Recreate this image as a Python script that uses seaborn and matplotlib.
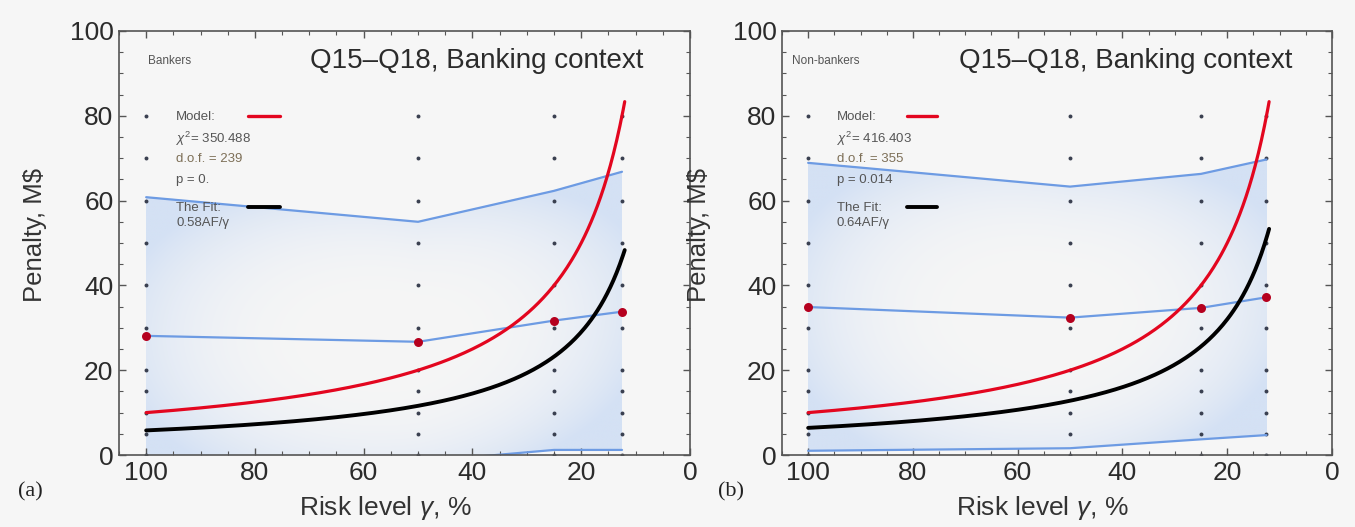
import numpy as np
import pandas as pd
import matplotlib
matplotlib.use("Agg")
import matplotlib.pyplot as plt
import seaborn as sns

# ---- data -------------------------------------------------------------
risk_levels = [100, 50, 25, 12.5]          # risk level gamma, %

bankers_mean = [28.1, 26.7, 31.7, 33.8]
bankers_upper = [60.8, 55.0, 62.3, 66.8]
bankers_lower = [-4.0, -1.6, 1.2, 1.2]

nonbankers_mean = [34.9, 32.4, 34.7, 37.2]
nonbankers_upper = [68.9, 63.3, 66.3, 69.7]
nonbankers_lower = [1.0, 1.6, 3.7, 4.7]

AF = 10.0                                   # model scale: penalty = AF*100/gamma
fit_coef = {"Bankers": 0.58, "Non-bankers": 0.64}
stats = {
    "Bankers": ("350.488", "239", "0."),
    "Non-bankers": ("416.403", "355", "0.014"),
}
grid_y = [0, 5, 10, 15, 20, 30, 40, 50, 60, 70, 80]

x_ticks = [100, 80, 60, 40, 20, 0]
y_ticks = [0, 20, 40, 60, 80, 100]

# ---- style ------------------------------------------------------------
sns.set_theme(style="ticks")
BG = "#f6f6f6"
plt.rcParams["font.family"] = ["Liberation Sans", "DejaVu Sans"]
plt.rcParams["mathtext.fontset"] = "custom"
plt.rcParams["mathtext.it"] = "Liberation Sans:italic"
plt.rcParams["mathtext.rm"] = "Liberation Sans"

RED = "#e3061f"
BLUE = "#6d9be3"
DOT_RED = "#b5001e"
TXT = "#2b2b2b"
SMALL = 9.5

fig = plt.figure(figsize=(13.55, 5.27), dpi=100, facecolor=BG)
ax_a = fig.add_axes([0.0878, 0.1366, 0.4214, 0.8046])
ax_b = fig.add_axes([0.5771, 0.1366, 0.4059, 0.8046])


def band_gradient(ax, xs, lo, up):
    """Soft blue shading between the lower and upper bounds."""
    xs = np.asarray(xs, float)
    order = np.argsort(xs)
    xo, lo_o, up_o = xs[order], np.asarray(lo)[order], np.asarray(up)[order]
    x0, x1 = xo.min(), xo.max()
    y0, y1 = min(lo_o.min(), 0), up_o.max()
    nx, ny = 400, 400
    gx = np.linspace(x0, x1, nx)
    gy = np.linspace(y0, y1, ny)
    X, Y = np.meshgrid(gx, gy)
    L = np.interp(X, xo, lo_o)
    U = np.interp(X, xo, up_o)
    u = (X - x0) / (x1 - x0)
    v = (Y - L) / (U - L)
    inside = (v >= 0) & (v <= 1)
    r = np.clip(((2 * u - 1) ** 2 + (2 * v - 1) ** 2 * 0.8) / 1.3, 0, 1)
    a = r ** 1.6
    base = np.array(matplotlib.colors.to_rgb(BG))
    blue = np.array(matplotlib.colors.to_rgb("#d4e1f4"))
    rgb = base[None, None, :] * (1 - a[..., None]) + blue[None, None, :] * a[..., None]
    rgba = np.dstack([rgb, inside.astype(float)])
    ax.imshow(rgba, extent=(x0, x1, y0, y1), origin="lower", aspect="auto",
              interpolation="bilinear", zorder=0.5)


def draw_panel(ax, group, mean, upper, lower):
    ax.set_facecolor(BG)
    band_gradient(ax, risk_levels, lower, upper)

    # dotted grid columns at the surveyed risk levels
    gx = np.repeat(risk_levels, len(grid_y))
    gyy = np.tile(grid_y, len(risk_levels))
    ax.scatter(gx, gyy, s=8, color="#3a4050", zorder=1, linewidths=0)

    df = pd.DataFrame({"gamma": risk_levels, "mean": mean,
                       "upper": upper, "lower": lower})
    for col in ["upper", "mean", "lower"]:
        sns.lineplot(data=df, x="gamma", y=col, ax=ax, color=BLUE, lw=1.6,
                     sort=False, zorder=2, legend=False)

    g = np.linspace(100, 12, 300)
    curves = pd.DataFrame({"gamma": g,
                           "model": AF * 100 / g,
                           "fit": fit_coef[group] * AF * 100 / g})
    sns.lineplot(data=curves, x="gamma", y="model", ax=ax, color=RED, lw=2.3,
                 sort=False, zorder=3)
    sns.lineplot(data=curves, x="gamma", y="fit", ax=ax, color="black", lw=2.8,
                 sort=False, zorder=3)

    sns.scatterplot(data=df, x="gamma", y="mean", ax=ax, color=DOT_RED, s=42,
                    linewidth=0, zorder=4)

    # in-plot legend / statistics
    chi2, dof, p = stats[group]
    ax.text(94.5, 79.7, "Model:", fontsize=SMALL, color="#555555", va="center")
    ax.plot([81.2, 75.4], [80.0, 80.0], color=RED, lw=2.4)
    ax.text(94.5, 74.6, r"$\chi^2$= " + chi2, fontsize=SMALL, color="#555555", va="center")
    ax.text(94.5, 69.8, "d.o.f. = " + dof, fontsize=SMALL, color="#7d6f57", va="center")
    ax.text(94.5, 64.9, "p = " + p, fontsize=SMALL, color="#555555", va="center")
    ax.text(94.5, 58.3, "The Fit:", fontsize=SMALL, color="#555555", va="center")
    ax.plot([81.2, 75.4], [58.6, 58.6], color="black", lw=2.8)
    ax.text(94.5, 54.8, f"{fit_coef[group]:.2f}AF/\u03b3", fontsize=SMALL,
            color="#555555", va="center")

    ax.text(39.3, 93.0, "Q15\u2013Q18, Banking context", fontsize=20,
            color=TXT, ha="center", va="center")

    ax.set_xlim(105, 0)
    ax.set_ylim(0, 100)
    ax.set_xticks(x_ticks)
    ax.set_yticks(y_ticks)
    ax.set_xticks(np.arange(0, 106, 5), minor=True)
    ax.set_yticks(np.arange(0, 101, 5), minor=True)
    ax.tick_params(which="both", direction="in", top=True, right=True,
                   color="#555555", labelcolor=TXT, labelsize=19, pad=4)
    ax.tick_params(which="major", length=5, width=1)
    ax.tick_params(which="minor", length=3, width=0.8)
    ax.set_xlabel("Risk level $\\mathit{\u03b3}$, %", fontsize=19, color="#333333")
    ax.set_ylabel("Penalty, M$", fontsize=18.5, color="#333333")
    for s in ax.spines.values():
        s.set_color("#555555")
        s.set_linewidth(1.2)


draw_panel(ax_a, "Bankers", bankers_mean, bankers_upper, bankers_lower)
draw_panel(ax_b, "Non-bankers", nonbankers_mean, nonbankers_upper, nonbankers_lower)

ax_a.text(99.6, 93.0, "Bankers", fontsize=SMALL - 1, color="#555555", va="center")
ax_b.text(103.0, 93.0, "Non-bankers", fontsize=SMALL - 1, color="#555555", va="center")

ax_a.xaxis.set_label_coords(0.466, -0.125)
ax_b.xaxis.set_label_coords(0.473, -0.125)
for ax in (ax_a, ax_b):
    ax.xaxis.label.set_va("center")
    ax.yaxis.label.set_va("center")
ax_a.yaxis.set_label_coords(-0.147, 0.52)
ax_b.yaxis.set_label_coords(-0.15, 0.52)

fig.text(18 / 1355, 1 - 492 / 527, "(a)", fontsize=16, family="Liberation Serif",
         color="#222222", va="center")
fig.text(718 / 1355, 1 - 492 / 527, "(b)", fontsize=16, family="Liberation Serif",
         color="#222222", va="center")

fig.savefig("out.png", dpi=100, facecolor=BG)
